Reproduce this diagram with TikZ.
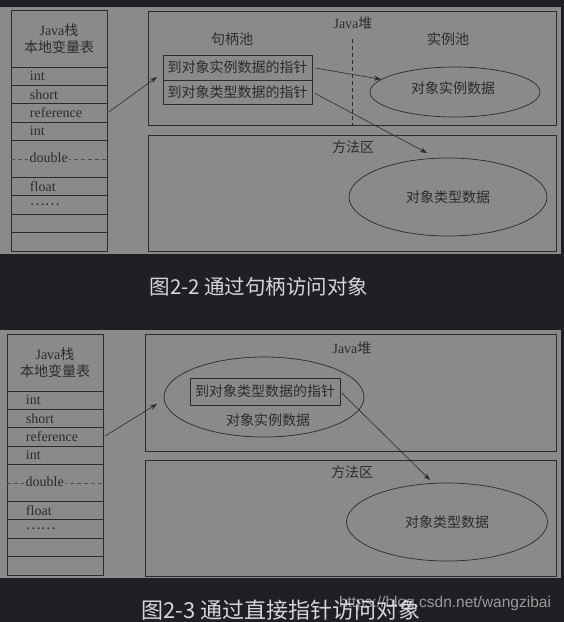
\documentclass[tikz,border=0pt]{standalone}
\usepackage{fontspec}
\setmainfont{Liberation Serif}
\newfontfamily\cjk{Noto Sans CJK SC}
\newfontfamily\wmfont{Liberation Sans}
\usetikzlibrary{shapes.geometric,arrows.meta,calc}
\definecolor{bgc}{HTML}{1F2023}
\definecolor{panelc}{HTML}{8A8A8A}
\definecolor{inkc}{HTML}{2C2C2C}
\definecolor{dashc}{HTML}{505050}
\definecolor{capc}{HTML}{D3D6DA}
\newcommand\tf{\fontsize{14}{17}\selectfont}
\newcommand\stacktable[1]{%
  \node[box, minimum width=96pt, minimum height=57pt, align=center, font=\tf] (#1h) at (59,38.5) {Java{\cjk 栈}\\{\cjk 本地变量表}};
  \node[cell] (#1r1) at (59,76.2) {int};
  \node[cell] (#1r2) at (59,94.6) {short};
  \node[cell] (#1r3) at (59,113) {reference};
  \node[cell] (#1r4) at (59,131.4) {int};
  \node[cell, minimum height=36.8pt] (#1r5) at (59,159) {};
  \draw[dashed, draw=dashc, line width=0.6pt, dash pattern=on 4pt off 3pt] (#1r5.west) -- (#1r5.east);
  \node[fill=panelc, inner sep=1.5pt, anchor=west, font=\tf] (#1dbl) at (28,158) {double};
  \node[cell] (#1r6) at (59,186.6) {float};
  \node[cell] (#1r7) at (59,205) {{\cjk ……}};
  \node[cell] (#1r8) at (59,223.4) {};
  \node[cell] (#1r9) at (59,241.8) {};
}
\begin{document}
\begin{tikzpicture}[x=1pt,y=-1pt,
  every node/.style={text=inkc},
  box/.style={draw=inkc, line width=0.7pt, inner sep=0pt, font=\tf},
  cell/.style={box, minimum width=96pt, minimum height=18.4pt, text width=58pt, align=left},
  ell/.style={ellipse, draw=inkc, line width=0.7pt, inner sep=0pt, font=\tf},
  lbl/.style={inner sep=0pt, font=\tf},
  arr/.style={-{Stealth[length=7pt,width=5pt]}, draw=inkc, line width=0.6pt},
  captext/.style={inner sep=0pt, text=capc}]
\useasboundingbox (0,0) rectangle (564,622);
\fill[bgc] (0,0) rectangle (564,622);
\fill[panelc] (0,7) rectangle (561,254);
\fill[panelc] (0,330) rectangle (561,578);

% ---------- top figure ----------
\stacktable{t}
\node[box, minimum width=408pt, minimum height=114pt] (heap1) at (352,68) {};
\node[lbl] (jh1) at (353,23) {Java{\cjk 堆}};
\node[lbl] (hp1) at (232,39) {\cjk 句柄池};
\node[lbl] (ip1) at (448,39) {\cjk 实例池};
\coordinate (dv1) at (352,39);
\draw[dashed, draw=inkc, line width=0.6pt, dash pattern=on 4pt off 3pt] (dv1) -- (dv1 |- heap1.south);
\node[box, minimum width=149pt, minimum height=25pt] (h1) at (237.5,67.5) {\cjk 到对象实例数据的指针};
\node[box, minimum width=149pt, minimum height=24pt] (h2) at (237.5,92) {\cjk 到对象类型数据的指针};
\node[ell, minimum width=170pt, minimum height=50pt] (inst1) at (455,92) {};
\node[lbl] (inst1t) at (453,88) {\cjk 对象实例数据};
\node[box, minimum width=408pt, minimum height=116pt] (meth1) at (352,193) {};
\node[lbl] (ma1) at (353,147) {\cjk 方法区};
\node[ell, minimum width=198pt, minimum height=78pt] (type1) at (448,197) {\cjk 对象类型数据};
\coordinate (p1) at (157,77);
\draw[arr, shorten <=2pt] (tr3.east) -- (p1);
\draw[arr, shorten <=3pt] (h1.east) -- (inst1);
\coordinate (p2) at (427,153);
\draw[arr, shorten <=3pt] (h2.east) -- (p2);
\node[captext, font=\cjk\fontsize{20.5}{24}\selectfont] (cap1) at (259,287) {图2-2 通过句柄访问对象};

% ---------- bottom figure ----------
\begin{scope}[shift={(-4,324)}]
\stacktable{b}
\end{scope}
\node[box, minimum width=411pt, minimum height=117pt] (heap2) at (350.5,392.5) {};
\node[lbl] (jh2) at (352,348) {Java{\cjk 堆}};
\node[ell, minimum width=200pt, minimum height=80pt] (obj2) at (264,397) {};
\node[box, minimum width=150pt, minimum height=27pt] (ptr2) at (265,391.5) {\cjk 到对象类型数据的指针};
\node[lbl] (oi2) at (268,420) {\cjk 对象实例数据};
\node[box, minimum width=411pt, minimum height=116pt] (meth2) at (350.5,518) {};
\node[lbl] (ma2) at (352,472) {\cjk 方法区};
\node[ell, minimum width=201pt, minimum height=78pt] (type2) at (447,522) {\cjk 对象类型数据};
\coordinate (p3) at (157,404);
\draw[arr, shorten <=2pt] (br3.east) -- (p3);
\coordinate (p4) at (430,480);
\draw[arr, shorten <=2pt] (ptr2.east) -- (p4);
\node[captext, font=\cjk\fontsize{22}{26}\selectfont] (cap2) at (281,610) {图2-3 通过直接指针访问对象};
\node[inner sep=0pt, text=white, opacity=0.55, font=\wmfont\fontsize{15.5}{18}\selectfont] (wm) at (445,603) {https://blog.csdn.net/wangzibai};
\end{tikzpicture}
\end{document}
